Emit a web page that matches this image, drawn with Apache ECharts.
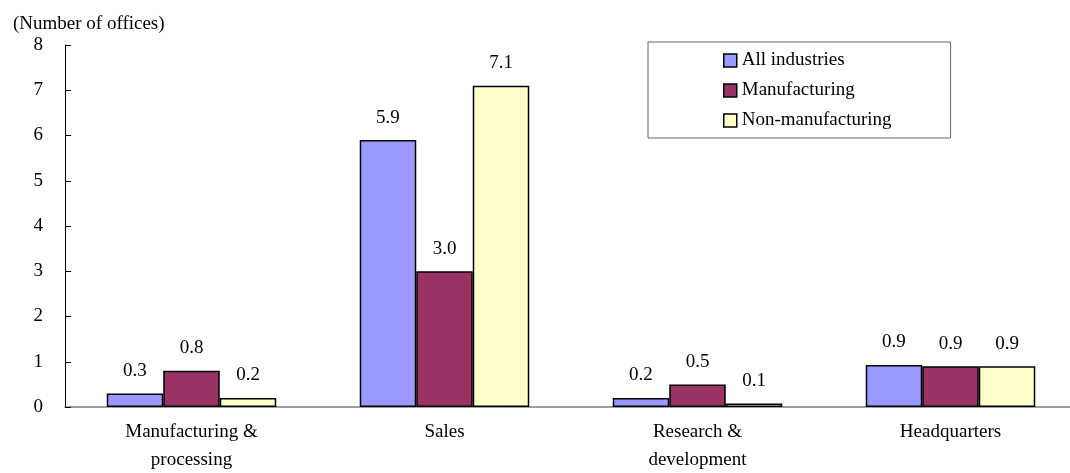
<!DOCTYPE html>
<html>
<head>
<meta charset="utf-8">
<script src="https://cdn.jsdelivr.net/npm/echarts@6/dist/echarts.min.js"></script>
<style>
  html, body { margin: 0; padding: 0; background: #fff; }
  #chart { width: 1070px; height: 473px; }
</style>
</head>
<body>
<div id="chart"></div>
<script>
const categories = ['Manufacturing &\nprocessing', 'Sales', 'Research &\ndevelopment', 'Headquarters']
const allIndustries = [0.3, 5.9, 0.2, 0.93]
const manufacturing = [0.8, 3.0, 0.5, 0.9]
const nonManufacturing = [0.2, 7.1, 0.08, 0.9]
const yTicks = [0, 1, 2, 3, 4, 5, 6, 7, 8]

const font = 'Liberation Serif, Times New Roman, serif'

const chart = echarts.init(document.getElementById('chart'))

function barSeries(name, data, color) {
  return {
    name: name,
    type: 'bar',
    data: data,
    barGap: '0%',
    barCategoryGap: '33%',
    itemStyle: { color: color, borderColor: '#000', borderWidth: 1.5 },
    label: {
      show: true,
      position: 'top',
      distance: 13,
      color: '#000',
      fontFamily: font,
      fontSize: 19,
      formatter: p => p.value.toFixed(1)
    },
    animation: false
  }
}

chart.setOption({
  title: {
    text: '(Number of offices)',
    left: 8,
    top: 10,
    textStyle: { fontFamily: font, fontSize: 19, fontWeight: 'normal', color: '#000' }
  },
  legend: {
    orient: 'vertical',
    left: 648,
    top: 42,
    padding: [9, 59, 8, 75],
    icon: 'rect',
    itemWidth: 13,
    itemHeight: 13,
    itemGap: 11,
    borderColor: '#666',
    borderWidth: 1,
    textStyle: { fontFamily: font, fontSize: 19, color: '#000' },
    itemStyle: { borderColor: '#000', borderWidth: 1.5 }
  },
  grid: {
    left: 65,
    top: 45,
    width: 1012,
    bottom: 66,
    outerBoundsMode: 'none'
  },
  xAxis: {
    type: 'category',
    data: categories,
    axisLine: { lineStyle: { color: '#808080', width: 1.5 } },
    axisTick: { show: false },
    axisLabel: {
      fontFamily: font,
      fontSize: 19,
      color: '#000',
      lineHeight: 28,
      margin: 11,
      interval: 0
    }
  },
  yAxis: {
    type: 'value',
    min: yTicks[0],
    max: yTicks[yTicks.length - 1],
    interval: 1,
    splitLine: { show: false },
    axisLine: { show: true, lineStyle: { color: '#000' } },
    axisTick: { show: true, inside: true, length: 6, lineStyle: { color: '#000' } },
    axisLabel: {
      fontFamily: font,
      fontSize: 19,
      color: '#000',
      margin: 22
    }
  },
  series: [
    barSeries('All industries', allIndustries, '#9999FF'),
    barSeries('Manufacturing', manufacturing, '#993366'),
    barSeries('Non-manufacturing', nonManufacturing, '#FFFFCC')
  ]
})
</script>
</body>
</html>
